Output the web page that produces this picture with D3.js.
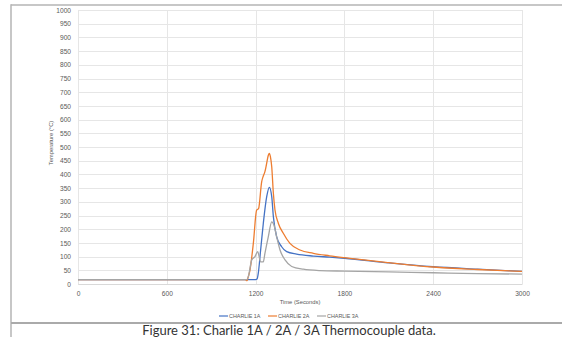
<!DOCTYPE html>
<html>
<head>
<meta charset="utf-8">
<script src="https://cdn.jsdelivr.net/npm/d3@7"></script>
<style>
  body { margin: 0; background: #fff; }
  svg { display: block; }
</style>
</head>
<body>
<div id="chart"></div>
<script>

// Time (seconds) and temperature readings
const time1A = [0, 1150, 1200, 1210, 1218, 1234, 1252, 1275, 1293, 1309, 1320, 1342, 1376, 1410, 1477, 1590, 1700, 1800, 2100, 2400, 2700, 3000];
const temp1A = [16, 16, 16, 18, 39, 124, 221, 319, 353, 319, 246, 173, 136, 118, 109, 102, 98, 94, 77, 63, 54, 46];

const time2A = [0, 1130, 1142, 1150, 1162, 1185, 1207, 1220, 1241, 1252, 1263, 1275, 1286, 1293, 1300, 1309, 1320, 1331, 1354, 1387, 1432, 1500, 1590, 1700, 1800, 2100, 2400, 2700, 3000];
const temp2A = [16, 16, 12, 25, 51, 150, 270, 275, 373, 394, 410, 441, 470, 477, 465, 428, 331, 270, 221, 185, 148, 124, 112, 103, 96, 78, 62, 53, 46];

const time3A = [0, 1140, 1151, 1174, 1196, 1214, 1234, 1252, 1263, 1286, 1309, 1324, 1342, 1365, 1399, 1444, 1522, 1635, 1800, 2100, 2400, 2700, 3000];
const temp3A = [16, 16, 27, 88, 100, 118, 81, 81, 112, 173, 227, 215, 173, 124, 88, 64, 54, 49, 47, 44, 41, 38, 36];

const seriesNames = ["CHARLIE 1A", "CHARLIE 2A", "CHARLIE 3A"];
const seriesColors = ["#4472c4", "#ed7d31", "#a5a5a5"];
const xTicks = [0, 600, 1200, 1800, 2400, 3000];
const yTicks = d3.range(0, 1001, 50);

const series = [
    { name: seriesNames[0], color: seriesColors[0], t: time1A, v: temp1A },
    { name: seriesNames[1], color: seriesColors[1], t: time2A, v: temp2A },
    { name: seriesNames[2], color: seriesColors[2], t: time3A, v: temp3A }
];

const W = 562, H = 337;
const margin = { top: 10, right: 40, bottom: 53, left: 78 },
    width = W - margin.left - margin.right,
    height = H - margin.top - margin.bottom;

const root = d3.select("#chart").append("svg")
    .attr("width", W)
    .attr("height", H);

// page frame and caption separator
root.append("line").attr("x1", 11).attr("x2", W).attr("y1", 5).attr("y2", 5)
    .attr("stroke", "#b4b4b4").attr("stroke-width", 1.5);
root.append("line").attr("x1", 11).attr("x2", 11).attr("y1", 4.25).attr("y2", H)
    .attr("stroke", "#b4b4b4").attr("stroke-width", 1.5);
root.append("line").attr("x1", 11).attr("x2", W).attr("y1", 323).attr("y2", 323)
    .attr("stroke", "#aaaaaa").attr("stroke-width", 2);

root.append("text")
    .attr("x", 289).attr("y", 335)
    .attr("text-anchor", "middle")
    .attr("font-family", "Lato, 'Open Sans', sans-serif")
    .attr("font-size", 13)
    .attr("fill", "#333")
    .text("Figure 31: Charlie 1A / 2A / 3A Thermocouple data.");

const svg = root.append("g")
    .attr("transform", `translate(${margin.left},${margin.top})`);

const xScale = d3.scaleLinear().domain([0, 3000]).range([0, width]);
const yScale = d3.scaleLinear().domain([0, 1000]).range([height, 0]);

// gridlines
svg.append("g")
    .selectAll("line")
    .data(yTicks)
    .enter().append("line")
    .attr("x1", 0).attr("x2", width)
    .attr("y1", d => Math.round(yScale(d)) + 0.5)
    .attr("y2", d => Math.round(yScale(d)) + 0.5)
    .attr("stroke", "#e6e6e6");

svg.append("g")
    .selectAll("line")
    .data(xTicks)
    .enter().append("line")
    .attr("y1", 0).attr("y2", height)
    .attr("x1", d => Math.round(xScale(d)) + 0.5)
    .attr("x2", d => Math.round(xScale(d)) + 0.5)
    .attr("stroke", "#e6e6e6");

// x axis
const xAxis = svg.append("g")
    .attr("transform", `translate(0,${height})`)
    .call(d3.axisBottom(xScale).tickValues(xTicks).tickFormat(d3.format("d")).tickSize(0).tickPadding(7));
xAxis.select(".domain").attr("stroke", "#d9d9d9");

// y axis
const yAxis = svg.append("g")
    .call(d3.axisLeft(yScale).tickValues(yTicks).tickFormat(d3.format("d")).tickSize(0).tickPadding(7));
yAxis.select(".domain").remove();

svg.selectAll(".tick text")
    .attr("font-family", "'Liberation Sans', sans-serif")
    .attr("font-size", 6.6)
    .attr("fill", "#595959");

// axis titles
svg.append("text")
    .attr("x", width / 2).attr("y", height + 20)
    .attr("text-anchor", "middle")
    .attr("font-family", "'Liberation Sans', sans-serif")
    .attr("font-size", 5.8)
    .attr("fill", "#595959")
    .text("Time (Seconds)");

svg.append("text")
    .attr("transform", `translate(-25,${height / 2 - 4}) rotate(-90)`)
    .attr("text-anchor", "middle")
    .attr("font-family", "'Liberation Sans', sans-serif")
    .attr("font-size", 5.8)
    .attr("fill", "#595959")
    .text("Temperature (°C)");

// series lines
const line = d3.line()
    .x(d => xScale(d[0]))
    .y(d => yScale(d[1]))
    .curve(d3.curveMonotoneX);

series.forEach(s => {
    svg.append("path")
        .datum(s.t.map((t, i) => [t, s.v[i]]))
        .attr("fill", "none")
        .attr("stroke", s.color)
        .attr("stroke-width", 1.3)
        .attr("d", line);
});

// legend
const legend = root.append("g")
    .attr("transform", "translate(219,316)");

series.forEach((s, i) => {
    const g = legend.append("g").attr("transform", `translate(${i * 49},0)`);
    g.append("line")
        .attr("x1", 0).attr("x2", 9).attr("y1", 0).attr("y2", 0)
        .attr("stroke", s.color).attr("stroke-width", 1.2);
    g.append("text")
        .attr("x", 10).attr("y", 2)
        .attr("font-family", "'Liberation Sans', sans-serif")
        .attr("font-size", 5.4)
        .attr("fill", "#595959")
        .text(s.name);
});
</script>
</body>
</html>
